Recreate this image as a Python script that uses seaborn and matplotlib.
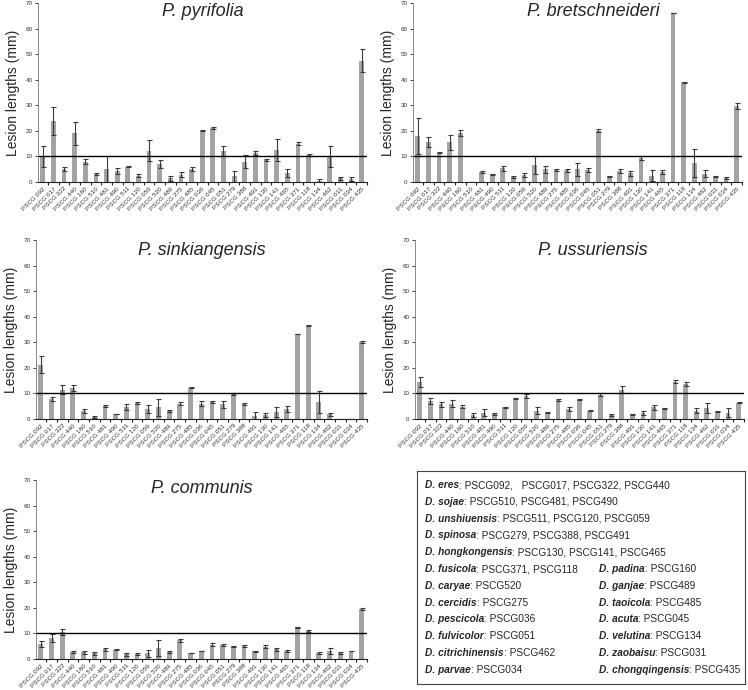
import numpy as np
import pandas as pd
import matplotlib
matplotlib.use("Agg")
import matplotlib.pyplot as plt
import seaborn as sns

sns.set_style("white")
plt.rcParams['font.family'] = ['Liberation Sans', 'DejaVu Sans']

# isolates on the x axis (same order in every panel)
strains = ['092', '017', '322', '440', '160', '510', '481', '490', '511', '120', '059',
           '520', '489', '275', '485', '036', '045', '051', '279', '388', '491', '130',
           '141', '465', '371', '118', '134', '462', '031', '034', '435']
tick_labels = ['PSCG ' + s for s in strains]

# mean lesion length (mm) and error
pyrifolia_mean = [10, 24, 5, 19, 8, 3.2, 5, 4.3, 6, 2.5, 12.3, 7, 1.5, 2.8, 5, 20, 21,
                  12, 2.2, 8, 11.5, 8.7, 12.5, 3.5, 15, 10.5, 0.5, 10, 1.5, 1, 47.5]
pyrifolia_err = [4, 5.5, 0.8, 4.5, 1, 0.3, 5, 1, 0.3, 0.5, 4, 1.5, 1, 1, 0.7, 0.2, 0.4,
                 2, 2.2, 2.7, 0.8, 0.4, 4.3, 1.4, 0.5, 0.3, 0.5, 4, 0.6, 0.8, 4.5]

bretschneideri_mean = [18, 15.7, 11.5, 15.5, 19.3, 0, 4, 3, 5.3, 1.8, 2.8, 6.7, 5, 4.6,
                       4.5, 5, 4.7, 20, 2.2, 4.2, 3.4, 9.4, 2.5, 4, 66, 39, 7.5, 3.2,
                       2.2, 1.5, 29.7]
bretschneideri_err = [7, 2, 0.1, 3, 1.2, 0, 0.3, 0.1, 1, 0.4, 0.8, 3.5, 1.3, 0.3, 0.4,
                      2.5, 0.9, 0.6, 0.3, 0.7, 1, 0.7, 2.2, 0.7, 0.1, 0.1, 5.5, 1.4,
                      0.1, 0.4, 1.1]

sinkiangensis_mean = [21.3, 7.8, 11.5, 12, 3, 0.8, 5, 2, 4.7, 6.2, 4, 4.5, 3.3, 6,
                      12.3, 6, 6.6, 5.7, 9.7, 6, 1.3, 1.5, 2.7, 3.8, 33.2, 36.5, 6.7,
                      1.8, 0, 0, 30]
sinkiangensis_err = [3.2, 0.8, 1.8, 1.2, 0.8, 0.5, 0.5, 0.1, 1.2, 0.5, 1.5, 3.4, 0.4,
                     0.7, 0.2, 1, 0.3, 1.5, 0.3, 0.4, 1.3, 0.9, 2, 1.2, 0.1, 0.1, 4.3,
                     0.6, 0, 0, 0.4]

ussuriensis_mean = [14.5, 7.2, 5.7, 6, 4.8, 1.5, 2.5, 2, 4.5, 8, 9, 3.2, 2.5, 7.5, 4,
                    7.5, 3.3, 9.4, 1.5, 11.5, 1.8, 2.3, 4.5, 4.2, 14.6, 13.7, 3.2, 4.3,
                    2.8, 2.5, 6.3]
ussuriensis_err = [1.8, 1.2, 0.9, 1.4, 0.6, 0.8, 1.5, 0.4, 0.2, 0.3, 0.9, 1.3, 0.2,
                   0.3, 0.7, 0.2, 0.2, 0.6, 0.4, 1.3, 0.3, 0.9, 1, 0.2, 0.5, 0.9, 1,
                   1.8, 0.2, 1.7, 0.2]

communis_mean = [5.8, 8.2, 10.5, 2.9, 2.6, 2.2, 3.8, 3.6, 1.8, 2, 2.3, 4.3, 2.8, 7.3,
                 2.3, 3.2, 5.6, 5.6, 5, 5, 3, 4.8, 3.8, 3.2, 12.5, 11, 2.2, 3, 2.3,
                 3.2, 19.7]
communis_err = [1.1, 1.7, 1.3, 0.4, 0.7, 0.7, 0.6, 0.2, 0.6, 0.4, 1.4, 3.3, 0.5, 0.6,
                0.1, 0.1, 0.5, 0.4, 0.2, 0.3, 0.2, 0.5, 0.6, 0.5, 0.2, 0.3, 0.4, 1.2,
                0.5, 0.1, 0.4]

hosts = ['P. pyrifolia', 'P. bretschneideri', 'P. sinkiangensis',
         'P. ussuriensis', 'P. communis']
means = [pyrifolia_mean, bretschneideri_mean, sinkiangensis_mean,
         ussuriensis_mean, communis_mean]
errs = [pyrifolia_err, bretschneideri_err, sinkiangensis_err,
        ussuriensis_err, communis_err]

# species key
left_names = ['D. eres', 'D. sojae', 'D. unshiuensis', 'D. spinosa', 'D. hongkongensis',
              'D. fusicola', 'D. caryae', 'D. cercidis', 'D. pescicola', 'D. fulvicolor',
              'D. citrichinensis', 'D. parvae']
left_isolates = ['PSCG092,   PSCG017, PSCG322, PSCG440', 'PSCG510, PSCG481, PSCG490',
                 'PSCG511, PSCG120, PSCG059', 'PSCG279, PSCG388, PSCG491',
                 'PSCG130, PSCG141, PSCG465', 'PSCG371, PSCG118', 'PSCG520',
                 'PSCG275', 'PSCG036', 'PSCG051', 'PSCG462', 'PSCG034']
right_names = ['D. padina', 'D. ganjae', 'D. taoicola', 'D. acuta', 'D. velutina',
               'D. zaobaisu', 'D. chongqingensis']
right_isolates = ['PSCG160', 'PSCG489', 'PSCG485', 'PSCG045', 'PSCG134',
                  'PSCG031', 'PSCG435']

W, H = 748, 690
fig = plt.figure(figsize=(W / 100, H / 100), dpi=100)

# panel boxes in pixels: left, right, top, bottom, title x (axes fraction), title y
boxes = [(38, 367, 3, 182, 0.5, 0.955),
         (413, 742, 3, 182, 0.547, 0.955),
         (36, 367, 240, 419, 0.5, 0.944),
         (415, 744, 240, 419, 0.541, 0.944),
         (36, 367, 480, 659, 0.5, 0.955)]

bar_color = '#a3a3a3'

for host, m, e, (l, r, t, b, tx, ty) in zip(hosts, means, errs, boxes):
    ax = fig.add_axes([l / W, 1 - b / H, (r - l) / W, (b - t) / H])
    df = pd.DataFrame({'strain': tick_labels, 'mean': m})
    sns.barplot(data=df, x='strain', y='mean', ax=ax, color=bar_color,
                saturation=1, width=0.45, linewidth=0)
    ax.errorbar(np.arange(len(m)), m, yerr=e, fmt='none', ecolor='#3a3a3a',
                elinewidth=0.8, capsize=1.8, capthick=0.8)
    ax.axhline(10, color='black', lw=1.0)
    ax.set_ylim(0, 70)
    ax.set_xlim(-0.45, len(m) - 0.5)
    ax.set_yticks(range(0, 71, 10))
    ax.tick_params(axis='y', labelsize=4.5, length=2, width=0.6, pad=2,
                   direction='out', left=True, labelcolor='#333333')
    ax.set_xticks(range(len(m)))
    ax.set_xticklabels(tick_labels, rotation=45, ha='right', rotation_mode='anchor',
                       fontsize=4.6, color='#333333')
    ax.tick_params(axis='x', length=0, pad=3)
    ax.set_xticks(np.arange(len(m)) + 0.5, minor=True)
    ax.tick_params(axis='x', which='minor', length=2, width=0.8, direction='out',
                   bottom=True)
    ax.set_xlabel('')
    ax.set_ylabel('Lesion lengths (mm)', fontsize=10,
                  family=['Liberation Sans Narrow', 'Liberation Sans'])
    ax.yaxis.set_label_coords(-18 / (r - l), 0.5)
    for side in ['top', 'right']:
        ax.spines[side].set_visible(False)
    ax.spines['left'].set_color('#777777')
    ax.spines['left'].set_linewidth(0.6)
    ax.spines['bottom'].set_color('#222222')
    ax.spines['bottom'].set_linewidth(0.8)
    ax.text(tx, ty, host, transform=ax.transAxes, ha='center', va='center',
            fontsize=13, fontstyle='italic')

# species key box
kl, kr, kt, kb = 417, 745, 471, 684
kax = fig.add_axes([kl / W, 1 - kb / H, (kr - kl) / W, (kb - kt) / H])
kax.set_xticks([])
kax.set_yticks([])
for s in kax.spines.values():
    s.set_visible(True)
    s.set_color('#444444')
    s.set_linewidth(0.8)

row_y = [485 + 16.8 * i for i in range(12)]


def key_entry(x, y, name, isolates):
    t = fig.text(x / W, 1 - y / H, name, fontsize=7.3, fontstyle='italic',
                 fontweight='bold', ha='left', va='center')
    kax.annotate(': ' + isolates, xy=(1, 0), xycoords=t, ha='left', va='bottom',
                 fontsize=7.3)


for i, (n, iso) in enumerate(zip(left_names, left_isolates)):
    key_entry(425, row_y[i], n, iso)
for i, (n, iso) in enumerate(zip(right_names, right_isolates)):
    key_entry(599, row_y[i + 5], n, iso)

fig.savefig('out.png', dpi=100)
